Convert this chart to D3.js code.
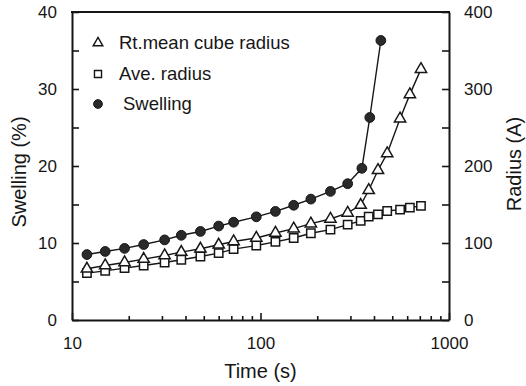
<!DOCTYPE html>
<html>
<head>
<meta charset="utf-8">
<script src="https://cdn.jsdelivr.net/npm/d3@7/dist/d3.min.js"></script>
<style>
  html, body { margin: 0; padding: 0; background: #fff; }
  svg { display: block; font-family: "Liberation Sans", Arial, sans-serif; }
</style>
</head>
<body>
<svg id="chart" width="526" height="386"></svg>
<script>
// Swelling (%) vs time, left axis
const swellTime = [12, 15, 19, 24, 31, 38, 48, 60, 72, 95, 120, 150, 185, 235, 290, 345, 380, 435];
const swellValue = [8.5, 8.9, 9.3, 9.8, 10.4, 11.0, 11.5, 12.2, 12.7, 13.4, 14.1, 14.9, 15.7, 16.7, 17.7, 19.7, 26.3, 36.3];

// Radius (A) vs time, right axis
const radiusTime = [12, 15, 19, 24, 31, 38, 48, 60, 72, 95, 120, 150, 185, 235, 290, 340, 375, 420, 470, 550, 620, 710];
const rmcRadius = [66.5, 70.8, 74.7, 79.1, 83.8, 88.2, 92.5, 97.7, 102, 106.5, 113, 118.6, 125.1, 131.2, 139, 149.2, 168.5, 194.5, 216.3, 261.5, 293, 325.8];
const aveRadius = [60.9, 63.8, 67.4, 70.8, 74.7, 78.2, 82.5, 86.9, 92.1, 96.7, 101.4, 106.5, 112.7, 117.3, 123.8, 128.8, 134.2, 137.2, 141.6, 143.3, 145.9, 148.2];

const xTickLabels = [10, 100, 1000];
const leftTicks = [0, 5, 10, 15, 20, 25, 30, 35, 40];
const rightTicks = [0, 50, 100, 150, 200, 250, 300, 350, 400];
const legendLabels = ["Rt.mean cube radius", "Ave. radius", "Swelling"];

const svg = d3.select("#chart");
const ink = "#161616";
const L = 72, R = 449, T = 12, B = 320;

const x = d3.scaleLog().domain([10, 1000]).range([L, R]);
const yL = d3.scaleLinear().domain([0, 40]).range([B, T]);
const yR = d3.scaleLinear().domain([0, 400]).range([B, T]);

// Axes
const xAxis = d3.axisBottom(x)
  .tickValues(x.ticks())
  .tickSizeInner(-4).tickSizeOuter(0).tickPadding(17)
  .tickFormat(d => xTickLabels.includes(d) ? String(d) : "");
const gx = svg.append("g").attr("transform", `translate(0,${B})`).call(xAxis);
gx.selectAll(".tick line").filter(d => xTickLabels.includes(d)).attr("y2", -7);

const gl = svg.append("g").attr("transform", `translate(${L},0)`)
  .call(d3.axisLeft(yL).tickValues(leftTicks).tickSizeInner(-7).tickSizeOuter(0).tickPadding(15)
    .tickFormat(d => d % 10 === 0 ? String(d) : ""));

const gr = svg.append("g").attr("transform", `translate(${R},0)`)
  .call(d3.axisRight(yR).tickValues(rightTicks).tickSizeInner(-7).tickSizeOuter(0).tickPadding(15)
    .tickFormat(d => d % 100 === 0 ? String(d) : ""));

[gx, gl, gr].forEach(g => {
  g.select(".domain").attr("stroke", ink).attr("stroke-width", 2);
  g.selectAll(".tick line").attr("stroke", ink).attr("stroke-width", 1.6);
  g.selectAll(".tick text").attr("fill", ink).style("font-size", "17px");
});

// top frame line
svg.append("line").attr("x1", L - 1).attr("x2", R + 1).attr("y1", T).attr("y2", T)
  .attr("stroke", ink).attr("stroke-width", 2);

// Axis titles
svg.append("text").attr("x", (L + R) / 2).attr("y", 378).attr("text-anchor", "middle")
  .attr("fill", ink).style("font-size", "20px").text("Time (s)");
svg.append("text").attr("transform", `translate(26,${(T + B) / 2 + 6}) rotate(-90)`)
  .attr("text-anchor", "middle").attr("fill", ink).style("font-size", "20px").text("Swelling (%)");
svg.append("text").attr("transform", `translate(521,164) rotate(-90)`)
  .attr("text-anchor", "middle").attr("fill", ink).style("font-size", "20px").text("Radius (A)");

// Series
const line = d3.line();
function drawSeries(times, values, yScale, symbolType, filled, size) {
  const pts = times.map((t, i) => [x(t), yScale(values[i])]);
  svg.append("path").attr("d", line(pts)).attr("fill", "none")
    .attr("stroke", ink).attr("stroke-width", 1.4);
  const sym = d3.symbol().type(symbolType).size(size);
  svg.append("g").selectAll("path").data(pts).join("path")
    .attr("transform", d => `translate(${d[0]},${d[1]})`)
    .attr("d", sym)
    .attr("fill", filled ? "#2a2a2a" : "#fff")
    .attr("stroke", ink).attr("stroke-width", filled ? 1 : 1.5);
}
drawSeries(radiusTime, aveRadius, yR, d3.symbolSquare, false, 70);
drawSeries(radiusTime, rmcRadius, yR, d3.symbolTriangle, false, 55);
drawSeries(swellTime, swellValue, yL, d3.symbolCircle, true, 75);

// Legend
const legendY = [43, 74, 104];
const legendSyms = [
  { type: d3.symbolTriangle, filled: false, size: 40 },
  { type: d3.symbolSquare, filled: false, size: 50 },
  { type: d3.symbolCircle, filled: true, size: 60 }
];
const legendTextX = [119, 119, 123];
legendLabels.forEach((lab, i) => {
  const s = legendSyms[i];
  svg.append("path").attr("transform", `translate(98,${legendY[i]})`)
    .attr("d", d3.symbol().type(s.type).size(s.size)())
    .attr("fill", s.filled ? "#2a2a2a" : "#fff")
    .attr("stroke", ink).attr("stroke-width", s.filled ? 1 : 1.4);
  svg.append("text").attr("x", legendTextX[i]).attr("y", legendY[i]).attr("dy", "0.35em")
    .attr("fill", ink).style("font-size", "18.5px").text(lab);
});
</script>
</body>
</html>
